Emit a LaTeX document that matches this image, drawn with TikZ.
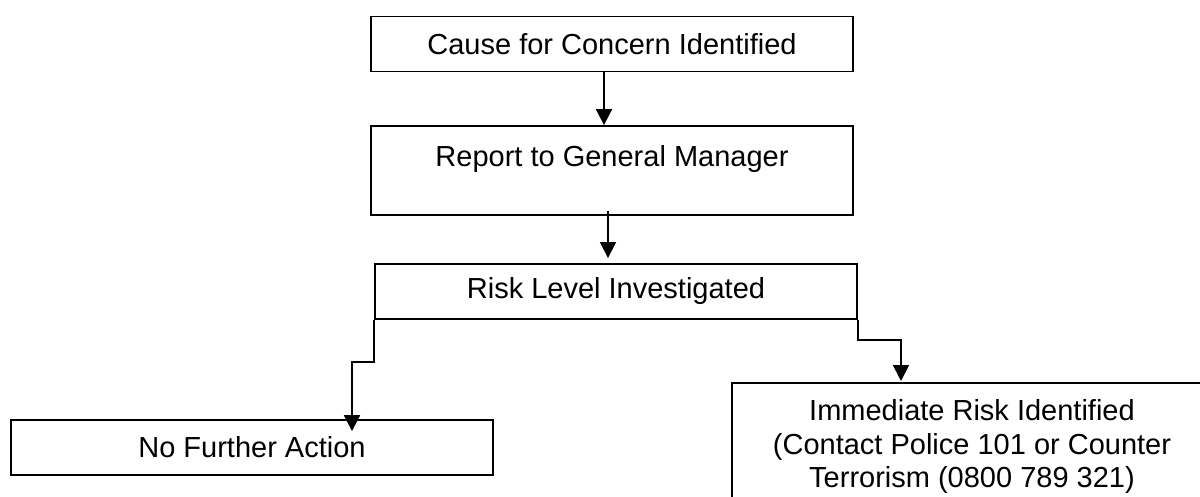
\documentclass[tikz,border=0pt]{standalone}
\usepackage{fontspec}
\setmainfont{Liberation Sans}
\usetikzlibrary{arrows.meta,calc}
\tikzset{
  box/.style={draw, line width=1.8pt, inner sep=0pt, minimum width=482pt, minimum height=55pt,
    font=\fontsize{29pt}{33.5pt}\selectfont, align=center},
  flow/.style={line width=1.8pt, -{Triangle[width=16pt,length=16pt]}}
}
\begin{document}
\begin{tikzpicture}[x=1pt,y=-1pt]
                \clip (0,0) rectangle (1200,497);
                \node[box] (cause) at (612,44) {Cause for Concern Identified};
                \node[box, minimum height=89pt, text height=21pt, text depth=29pt] (report) at (612,170.5) {Report to General Manager};
                \node[box] (risk) at (616,291.5) {Risk Level Investigated};
                \node[box] (nfa) at (252,447.5) {No Further Action};
                \node[box, anchor=north, minimum width=480pt, inner ysep=17pt] (immediate) at (972,382)
                    {Immediate Risk Identified\\(Contact Police 101 or Counter\\Terrorism (0800 789 321)};
                \draw[flow] ($(cause.south)+(-8,0)$) -- ($(report.north)+(-8,0)$);
                \draw[flow, line width=1.3pt] ($(report.south)+(-4,-5)$) -- ($(risk.north)+(-8,-5)$);
                \draw[flow] (risk.south west) -- ++(0,42) -| ($(nfa.north)+(100,12)$);
                \draw[flow] (risk.south east) -- ++(0,20) -| ($(immediate.north)+(-71,-1)$);
            \end{tikzpicture}
\end{document}
